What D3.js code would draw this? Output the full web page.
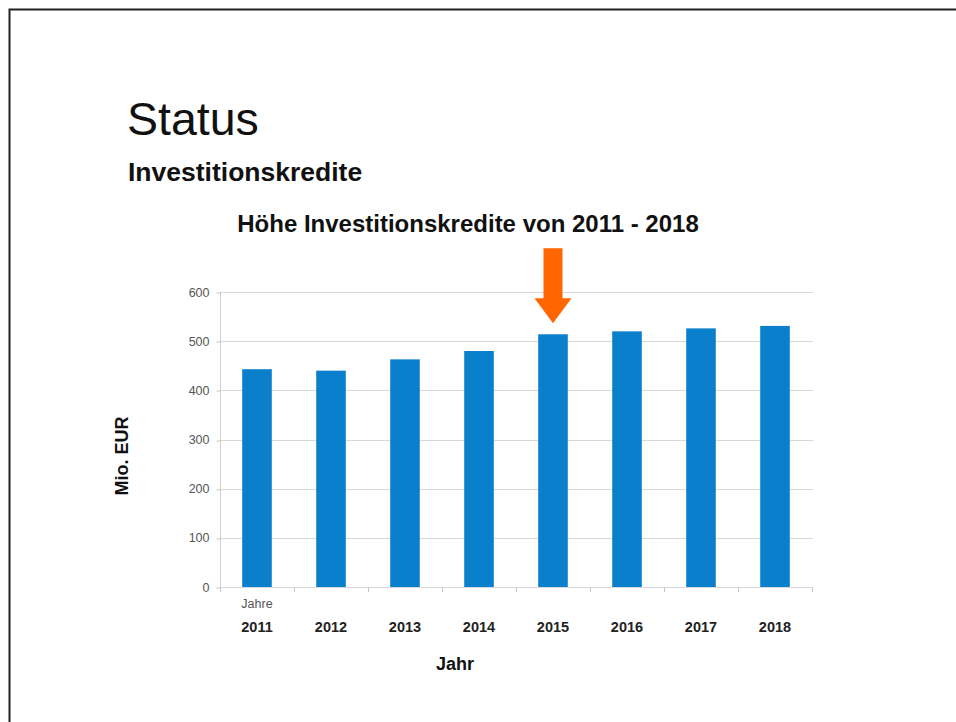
<!DOCTYPE html>
<html>
<head>
<meta charset="utf-8">
<script src="https://cdn.jsdelivr.net/npm/d3@7"></script>
<style>
  html, body { margin: 0; padding: 0; background: #fff; }
  svg { display: block; font-family: "Liberation Sans", Arial, sans-serif; }
</style>
</head>
<body>
<svg id="chart" width="956" height="722"></svg>
<script>
// Investment loans per year, in million EUR
const years = ["2011", "2012", "2013", "2014", "2015", "2016", "2017", "2018"];
const values = [443, 440, 463, 480, 514, 520, 526, 531];
const yTicks = [0, 100, 200, 300, 400, 500, 600];
const highlightYear = "2015";

const svg = d3.select("#chart");

// slide frame (left and top edges visible)
svg.append("path")
  .attr("d", "M9.5,722 V9.5 H956")
  .attr("fill", "none")
  .attr("stroke", "#222")
  .attr("stroke-width", 2);

// slide headings
svg.append("text")
  .attr("x", 127).attr("y", 135)
  .attr("font-size", 46.5)
  .attr("fill", "#111")
  .text("Status");

svg.append("text")
  .attr("x", 128).attr("y", 181)
  .attr("font-size", 26.5)
  .attr("font-weight", "bold")
  .attr("fill", "#111")
  .text("Investitionskredite");

svg.append("text")
  .attr("x", 468).attr("y", 232)
  .attr("text-anchor", "middle")
  .attr("font-size", 24)
  .attr("font-weight", "bold")
  .attr("fill", "#111")
  .text("Höhe Investitionskredite von 2011 - 2018");

// plot area
const plotLeft = 220, plotRight = 812, plotTop = 292, plotBottom = 587;

const x = d3.scaleBand().domain(years).range([plotLeft, plotRight]).paddingInner(0.6).paddingOuter(0.3);
const y = d3.scaleLinear().domain([0, 600]).range([plotBottom, plotTop]);

// horizontal gridlines
svg.append("g")
  .selectAll("line")
  .data(yTicks)
  .join("line")
  .attr("x1", plotLeft).attr("x2", plotRight + 1)
  .attr("y1", d => Math.round(y(d)) + 0.5)
  .attr("y2", d => Math.round(y(d)) + 0.5)
  .attr("stroke", "#d9d9d9")
  .attr("stroke-width", 1);

// y axis
const yAxis = svg.append("g")
  .attr("transform", `translate(${plotLeft + 0.5},0)`)
  .call(d3.axisLeft(y).tickValues(yTicks).tickSize(4).tickPadding(7));
yAxis.select(".domain").attr("stroke", "#d0d0d0").attr("d", `M0,${plotTop}V${plotBottom + 0.5}`);
yAxis.selectAll(".tick line").attr("stroke", "#c8c8c8")
  .attr("transform", d => `translate(0,${Math.round(y(d)) + 0.5 - y(d)})`);
yAxis.selectAll(".tick text")
  .attr("font-family", "'Liberation Sans', Arial, sans-serif")
  .attr("font-size", 12.5)
  .attr("fill", "#555");

// x axis ticks at category boundaries
const step = x.step();
const bounds = d3.range(years.length + 1).map(i => plotLeft + i * step);
svg.append("g")
  .selectAll("line")
  .data(bounds)
  .join("line")
  .attr("x1", d => Math.round(d) + 0.5).attr("x2", d => Math.round(d) + 0.5)
  .attr("y1", plotBottom).attr("y2", plotBottom + 5)
  .attr("stroke", "#c8c8c8");

// bars
svg.append("g")
  .selectAll("rect")
  .data(years.map((yr, i) => ({ yr, v: values[i] })))
  .join("rect")
  .attr("x", d => x(d.yr))
  .attr("width", x.bandwidth())
  .attr("y", d => y(d.v))
  .attr("height", d => y(0) - y(d.v))
  .attr("fill", "#0a80cc");

// category labels
svg.append("g")
  .selectAll("text")
  .data(years)
  .join("text")
  .attr("x", d => x(d) + x.bandwidth() / 2)
  .attr("y", 632)
  .attr("text-anchor", "middle")
  .attr("font-size", 14.5)
  .attr("font-weight", "bold")
  .attr("fill", "#222")
  .text(d => d);

svg.append("text")
  .attr("x", x(years[0]) + x.bandwidth() / 2)
  .attr("y", 608)
  .attr("text-anchor", "middle")
  .attr("font-size", 12.5)
  .attr("fill", "#555")
  .text("Jahre");

// axis titles
svg.append("text")
  .attr("x", 455).attr("y", 670)
  .attr("text-anchor", "middle")
  .attr("font-size", 18)
  .attr("font-weight", "bold")
  .attr("fill", "#111")
  .text("Jahr");

svg.append("text")
  .attr("transform", "translate(128,456) rotate(-90)")
  .attr("text-anchor", "middle")
  .attr("font-size", 18)
  .attr("font-weight", "bold")
  .attr("fill", "#111")
  .text("Mio. EUR");

// arrow pointing at the highlighted year
const hi = years.indexOf(highlightYear);
const ax = x(highlightYear) + x.bandwidth() / 2;
const tip = y(values[hi]) - 11;
const arrow = d3.path();
arrow.moveTo(ax - 9.5, tip - 75);
arrow.lineTo(ax + 9.5, tip - 75);
arrow.lineTo(ax + 9.5, tip - 25);
arrow.lineTo(ax + 18.5, tip - 25);
arrow.lineTo(ax, tip);
arrow.lineTo(ax - 18.5, tip - 25);
arrow.lineTo(ax - 9.5, tip - 25);
arrow.closePath();
svg.append("path")
  .attr("d", arrow.toString())
  .attr("fill", "#ff6600");
</script>
</body>
</html>
